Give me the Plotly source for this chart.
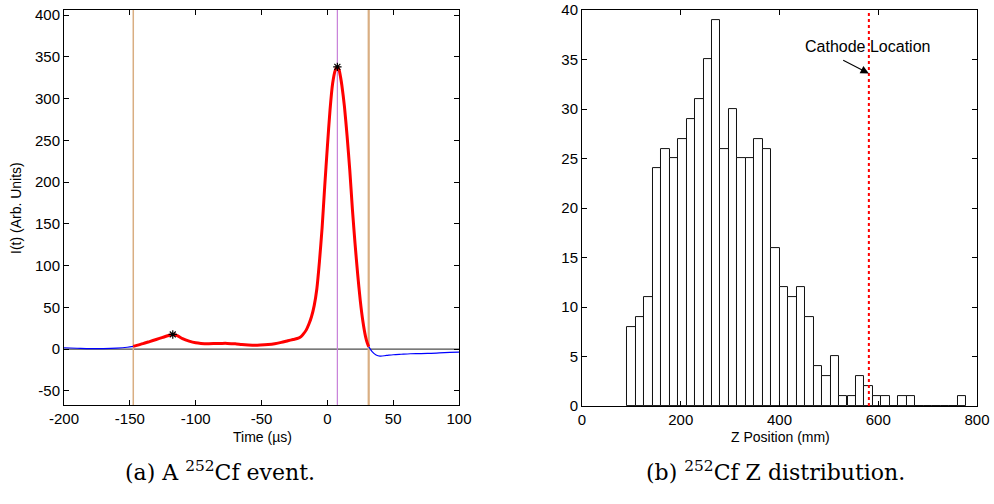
import plotly.graph_objects as go

# ---------------- Data: (a) 252Cf event ----------------
pre_t = [-200, -190, -180, -170, -160, -152, -147.4]
pre_i = [1.6, 1.0, 0.5, 0.6, 1.2, 2.2, 3.2]

sig_t = [-147.4, -140, -135, -130, -125, -120, -117.4, -114, -110, -105, -100, -96,
         -90, -85, -80, -76, -70, -65, -60, -55, -51, -45, -40, -35, -30, -26, -22,
         -20, -18, -16, -14, -12, -10, -8, -6, -4, -2, 0, 2, 4, 6, 7.6, 9, 10, 11,
         13, 15, 17, 19, 21, 23, 25, 27, 29, 30.4, 31.4]
sig_i = [3.2, 6.5, 9.0, 11.5, 14.0, 16.5, 17.5, 16.0, 12.5, 9.5, 7.5, 6.8,
         6.5, 6.7, 6.8, 6.8, 6.3, 5.5, 4.9, 4.6, 4.8, 5.5, 6.5, 8.0, 10.0, 11.5, 13.0,
         15.0, 18.5, 23.0, 30.0, 39.0, 52.0, 72.0, 105.0, 145.0, 195.0, 242.0, 286.0, 318.0, 334.0, 338.0, 334.0, 326.0, 316.0,
         290.0, 255.0, 215.0, 168.0, 127.0, 90.0, 58.0, 33.0, 15.0, 7.0, 3.0]

post_t = [31.4, 34, 37, 40, 45, 50, 56, 63, 70, 76, 85, 93, 100]
post_i = [3.0, -3.0, -7.0, -8.4, -7.6, -6.8, -6.2, -5.6, -5.4, -5.2, -4.6, -4.0, -3.6]

peaks_t = [-117.4, 7.6]
peaks_i = [17.5, 338.0]

window_start = -147.4
window_end = 31.4
peak_time = 7.6

# ---------------- Data: (b) 252Cf Z distribution ----------------
z_centers = [100.4, 117.5, 134.7, 151.8, 169.0, 186.1, 203.3, 220.4, 237.6, 254.7,
             271.9, 289.0, 306.2, 323.3, 340.5, 357.6, 374.8, 391.9, 409.1, 426.2,
             443.4, 460.5, 477.7, 494.8, 512.0, 529.1, 546.3, 563.4, 580.6, 597.7,
             614.9, 632.0, 649.2, 666.3, 683.5, 700.6, 717.8, 734.9, 752.1, 769.2]
z_counts = [8, 9, 11, 24, 26, 25, 27, 29, 31, 35,
            39, 26, 30, 25, 25, 27, 26, 16, 12, 11,
            12, 9, 4, 3, 5, 1, 1, 3, 2, 1,
            1, 0, 1, 1, 0, 0, 0, 0, 0, 1]
bin_width = 17.15
cathode_z = 581

left_xticks = [-200, -150, -100, -50, 0, 50, 100]
left_xtick_labels = ["-200", "-150", "-100", "-50", "0", "50", "100"]
left_yticks = [-50, 0, 50, 100, 150, 200, 250, 300, 350, 400]
left_ytick_labels = ["-50", "0", "50", "100", "150", "200", "250", "300", "350", "400"]
right_xticks = [0, 200, 400, 600, 800]
right_yticks = [0, 5, 10, 15, 20, 25, 30, 35, 40]

# ---------------- Figure ----------------
fig = go.Figure()

TAN = "#D9AE82"
MAG = "#C77FD9"

# zero line
fig.add_trace(go.Scatter(x=[-200, 100], y=[0, 0], mode="lines",
                         line=dict(color="#4d4d4d", width=1.3),
                         xaxis="x", yaxis="y", showlegend=False, hoverinfo="skip"))
# window lines
for xv, w, c in [(window_start, 1.5, TAN), (window_end, 2.2, TAN), (peak_time, 1.2, MAG)]:
    fig.add_trace(go.Scatter(x=[xv, xv], y=[-70, 410], mode="lines",
                             line=dict(color=c, width=w),
                             xaxis="x", yaxis="y", showlegend=False, hoverinfo="skip"))

fig.add_trace(go.Scatter(x=pre_t, y=pre_i, mode="lines", line=dict(color="#0000FF", width=1.2, shape="spline"),
                         xaxis="x", yaxis="y", showlegend=False))
fig.add_trace(go.Scatter(x=post_t, y=post_i, mode="lines", line=dict(color="#0000FF", width=1.2, shape="spline"),
                         xaxis="x", yaxis="y", showlegend=False))
fig.add_trace(go.Scatter(x=sig_t, y=sig_i, mode="lines", line=dict(color="#FF0000", width=3, shape="spline", smoothing=0.6),
                         xaxis="x", yaxis="y", showlegend=False))
fig.add_trace(go.Scatter(x=peaks_t, y=peaks_i, mode="markers",
                         marker=dict(symbol="asterisk-open", size=7, color="black",
                                     line=dict(color="black", width=1.2)),
                         xaxis="x", yaxis="y", showlegend=False))

# histogram
fig.add_trace(go.Bar(x=z_centers, y=z_counts, width=bin_width,
                     marker=dict(color="white", line=dict(color="#111111", width=1)),
                     xaxis="x2", yaxis="y2", showlegend=False))
fig.add_trace(go.Scatter(x=[cathode_z, cathode_z], y=[0, 40], mode="lines",
                         line=dict(color="#FF0000", width=2, dash="dot"),
                         xaxis="x2", yaxis="y2", showlegend=False, hoverinfo="skip"))

axis_common = dict(showline=True, linecolor="black", linewidth=1, mirror="ticks",
                   ticks="inside", ticklen=5, tickcolor="black", showgrid=False,
                   zeroline=False, automargin=False,
                   tickfont=dict(family="Liberation Sans, Arial", size=15, color="black"))

fig.update_layout(
    width=994, height=504,
    margin=dict(l=0, r=0, t=0, b=0),
    paper_bgcolor="white", plot_bgcolor="white",
    bargap=0,
    xaxis=dict(domain=[0.0644, 0.4618], range=[-200, 100], tickvals=left_xticks,
               ticktext=left_xtick_labels, anchor="y", **axis_common),
    yaxis=dict(domain=[0.1964, 0.980], range=[-67, 406], tickvals=left_yticks,
               ticktext=left_ytick_labels, anchor="x", **axis_common),
    xaxis2=dict(domain=[0.5855, 0.9829], range=[0, 800], tickvals=right_xticks,
                anchor="y2", **axis_common),
    yaxis2=dict(domain=[0.1944, 0.980], range=[0, 40], tickvals=right_yticks,
                anchor="x2", **axis_common),
)

lab_font = dict(family="Liberation Sans, Arial", size=14, color="black")
cap_font = dict(family="DejaVu Serif", size=22, color="black")

def paper_text(text, xpx, ypx, font, angle=0):
    fig.add_annotation(text=text, x=xpx / 994, y=1 - ypx / 504, xref="paper", yref="paper",
                       xanchor="center", yanchor="middle", showarrow=False,
                       textangle=angle, font=font)

paper_text("Time (µs)", 262, 437, lab_font)
paper_text("Z Position (mm)", 780, 437, lab_font)
paper_text("I(t) (Arb. Units)", 16, 208, lab_font, angle=-90)
paper_text("(a) A <sup>252</sup>Cf event.", 220, 471, cap_font)
paper_text("(b) <sup>252</sup>Cf Z distribution.", 775, 471, cap_font)

# cathode annotation
fig.add_annotation(text="Cathode Location", x=578, y=36.3, xref="x2", yref="y2",
                   xanchor="center", yanchor="middle",
                   showarrow=False, font=dict(family="Liberation Sans, Arial", size=16, color="black"))
fig.add_annotation(text="", x=cathode_z, y=33.6, xref="x2", yref="y2",
                   ax=526, ay=35.0, axref="x2", ayref="y2",
                   showarrow=True, arrowhead=2, arrowsize=1.5, arrowwidth=1.1, arrowcolor="black")

fig.write_html("out.html",
               config={"displayModeBar": False},
               post_script="document.body.style.margin='0';document.body.style.overflow='hidden';")
